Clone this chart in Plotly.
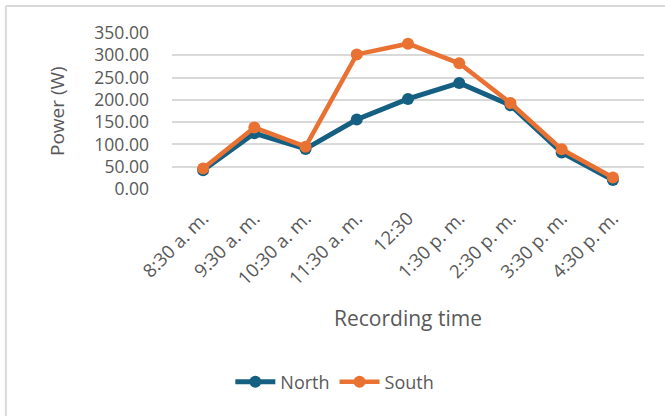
import plotly.graph_objects as go

# Recording times and measured power per panel orientation
times = ["8:30 a. m.", "9:30 a. m.", "10:30 a. m.", "11:30 a. m.", "12:30",
         "1:30 p. m.", "2:30 p. m.", "3:30 p. m.", "4:30 p. m."]
north = [42, 125, 90, 156, 202, 238, 188, 82, 20]
south = [46, 138, 95, 302, 326, 282, 193, 89, 26]
y_ticks = [0, 50, 100, 150, 200, 250, 300, 350]

NORTH_COLOR = "#156082"
SOUTH_COLOR = "#E97132"
TEXT_COLOR = "#595959"
GRID_COLOR = "#D9D9D9"
FONT = "Open Sans, Arial, sans-serif"

fig = go.Figure()
fig.add_trace(go.Scatter(
    x=times, y=north, name="North", mode="lines+markers",
    line=dict(color=NORTH_COLOR, width=5),
    marker=dict(color=NORTH_COLOR, size=12),
))
fig.add_trace(go.Scatter(
    x=times, y=south, name="South", mode="lines+markers",
    line=dict(color=SOUTH_COLOR, width=4.5),
    marker=dict(color=SOUTH_COLOR, size=12),
))

fig.update_layout(
    width=665, height=416,
    margin=dict(l=172, r=21, t=33, b=227),
    paper_bgcolor="white", plot_bgcolor="white",
    font=dict(family=FONT, color=TEXT_COLOR),
    showlegend=True,
    legend=dict(
        orientation="h", x=0.345, y=-1.237,
        xanchor="center", yanchor="middle",
        font=dict(size=18, color=TEXT_COLOR),
        itemwidth=40, tracegroupgap=0,
    ),
    xaxis=dict(
        type="category", tickangle=-45, showgrid=False, zeroline=False,
        showline=False, ticks="", ticklabelstandoff=14,
        tickfont=dict(size=18.5, color=TEXT_COLOR),
    ),
    yaxis=dict(
        range=[0, 350], tickvals=y_ticks, tickformat=".2f",
        showgrid=True, gridcolor=GRID_COLOR, gridwidth=1.5,
        zeroline=False, showline=False, ticks="", ticklabelstandoff=22,
        tickfont=dict(size=17.5, color=TEXT_COLOR),
    ),
    annotations=[
        dict(text="Power (W)", xref="paper", yref="paper", x=-0.2436, y=0.5,
             xanchor="center", yanchor="middle", textangle=-90, showarrow=False,
             font=dict(size=19, color=TEXT_COLOR)),
        dict(text="Recording time", xref="paper", yref="paper", x=0.5, y=-0.827,
             xanchor="center", yanchor="middle", showarrow=False,
             font=dict(size=21, color=TEXT_COLOR)),
    ],
    shapes=[
        # chart frame (top and left edges visible)
        dict(type="line", xref="paper", yref="paper", x0=-0.352, x1=1.05,
             y0=1.173, y1=1.173, line=dict(color=GRID_COLOR, width=2)),
        dict(type="line", xref="paper", yref="paper", x0=-0.352, x1=-0.352,
             y0=1.173, y1=-1.5, line=dict(color=GRID_COLOR, width=2)),
    ],
)

fig.write_html("out.html")
